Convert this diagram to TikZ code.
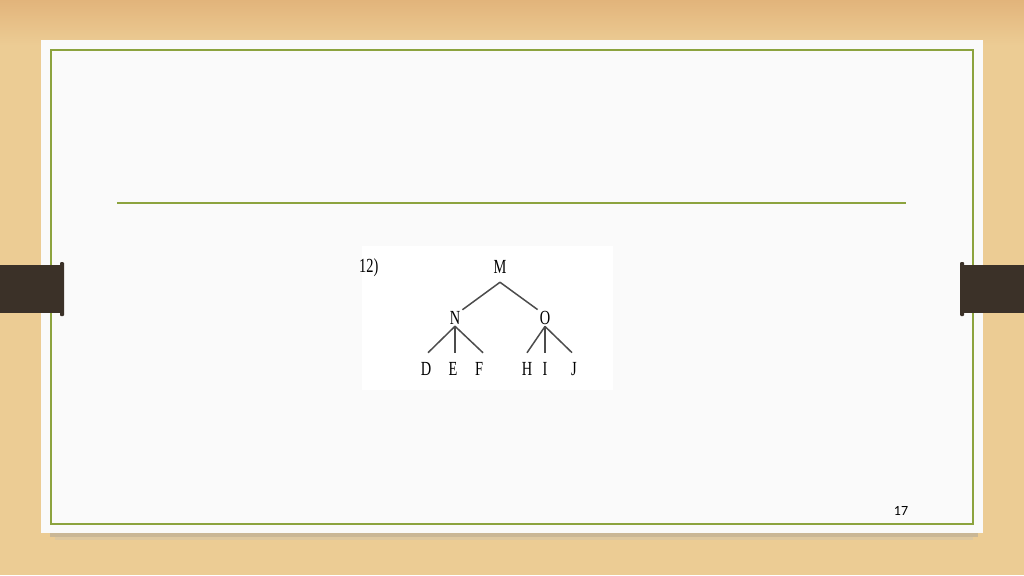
\documentclass[tikz,border=0pt]{standalone}
\usepackage{fontspec}
\setmainfont{Liberation Serif}
\newfontfamily\slidefont{Carlito}
\usepackage{xcolor}
\definecolor{wood}{HTML}{ECCC94}
\definecolor{wooddark}{HTML}{E2B47B}
\definecolor{olive}{HTML}{8CA33E}
\definecolor{tabbrown}{HTML}{3B3128}
\definecolor{paper}{HTML}{FAFAFA}
\tikzset{%
	tree label/.style={
		inner sep=1.5pt,
		xscale=0.72,
		font=\fontsize{20}{20}\selectfont
	},
	tree edge/.style={
		draw=black!70,
		line width=1.5pt
	},
}

\begin{document}
\begin{tikzpicture}[x=1pt,y=-1pt]
			\useasboundingbox (0,0) rectangle (1024,575);
			% Draw the wooden background
			\fill[wood] (0,0) rectangle (1024,575);
			\shade[top color=wooddark, bottom color=wood] (0,0) rectangle (1024,45);
			
			% Draw the slide with its shadow
			\fill[black!40, opacity=0.4] (50,533) rectangle (978,537);
			\fill[black!25, opacity=0.3] (55,537) rectangle (973,540);
			\fill[paper] (41,40) rectangle (983,533);
			\draw[olive, line width=1.3pt] (51,50) rectangle (973,524);
			
			% Draw the title rule
			\draw[olive, line width=1.3pt] (117,203) -- (906,203);
			
			% Draw the tabs
			\fill[tabbrown] (0,265) rectangle (63,313);
			\fill[tabbrown, rounded corners=1pt] (60,262) rectangle (64,316);
			\fill[tabbrown] (961,265) rectangle (1024,313);
			\fill[tabbrown, rounded corners=1pt] (960,262) rectangle (964,316);
			
			% Draw the picture box
			\fill[white] (362,246) rectangle (613,390);
			\node[tree label, anchor=west] (num) at (358,268) {12)};
			
			% Draw the tree
			\node[tree label] (M) at (500,267) {M};
			\node[tree label] (N) at (455,318) {N};
			\node[tree label] (O) at (545,318) {O};
			\node[tree label] (D) at (426,369) {D};
			\node[tree label] (E) at (453,369) {E};
			\node[tree label] (F) at (479,369) {F};
			\node[tree label] (H) at (527,369) {H};
			\node[tree label] (I) at (545,369) {I};
			\node[tree label] (J) at (574,369) {J};
			\draw[tree edge] ([yshift=-7pt]M.south) -- ([xshift=1pt]N.north east);
			\draw[tree edge] ([yshift=-7pt]M.south) -- ([xshift=-1pt]O.north west);
			\draw[tree edge] (N.south) -- ([xshift=2pt,yshift=8pt]D.north);
			\draw[tree edge] (N.south) -- ([yshift=8pt]N.south |- E.north);
			\draw[tree edge] (N.south) -- ([xshift=4pt,yshift=8pt]F.north);
			\draw[tree edge] (O.south) -- ([yshift=8pt]H.north);
			\draw[tree edge] (O.south) -- ([yshift=8pt]I.north);
			\draw[tree edge] (O.south) -- ([xshift=-2pt,yshift=8pt]J.north);
			
			% Draw the page number
			\node[font=\slidefont\fontsize{14}{14}\selectfont] (page) at (901,511) {17};
		\end{tikzpicture}
\end{document}
